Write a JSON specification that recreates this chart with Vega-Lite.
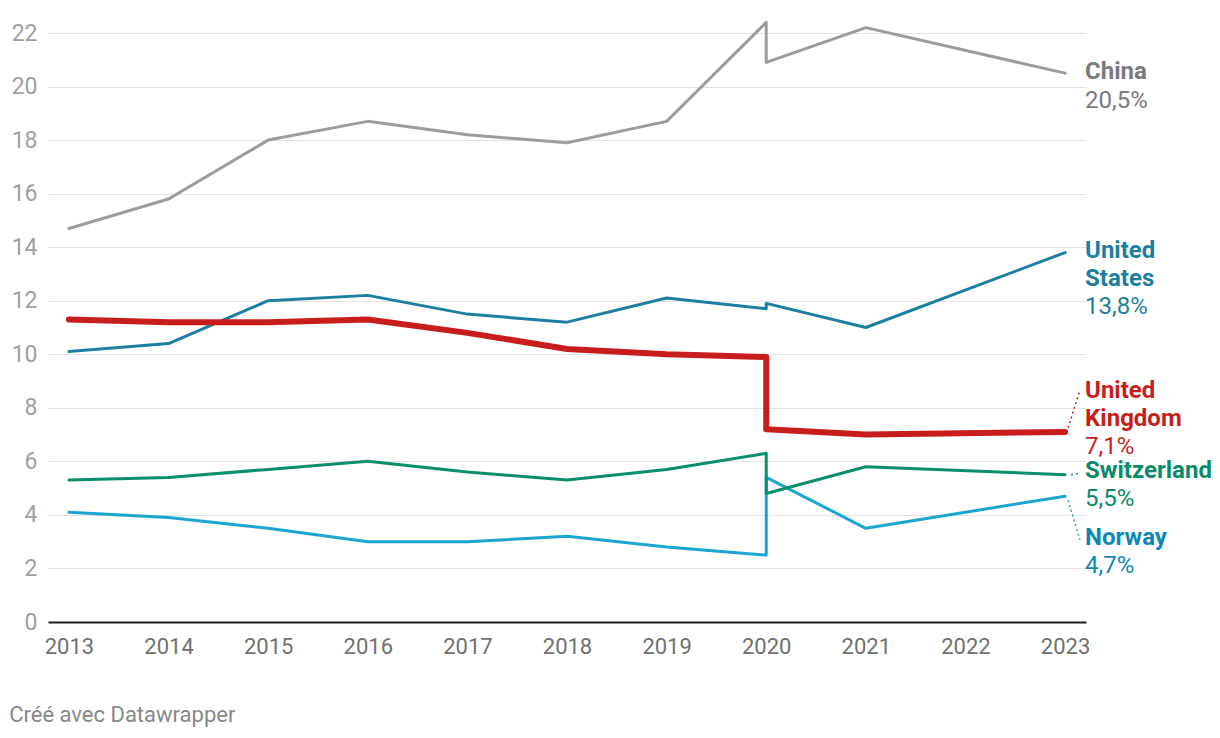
{
  "$schema": "https://vega.github.io/schema/vega-lite/v6.json",
  "width": 1038,
  "height": 589,
  "autosize": "none",
  "padding": {"left": 48, "top": 33, "right": 134, "bottom": 116},
  "background": "white",
  "title": {
    "text": "Créé avec Datawrapper",
    "orient": "bottom",
    "anchor": "start",
    "dx": -2,
    "offset": 48,
    "font": "Roboto",
    "fontSize": 22,
    "fontWeight": "normal",
    "color": "#888888"
  },
  "datasets": {
    "series": [
      {"country": "China", "i": 1, "year": 2013, "value": 14.7},
      {"country": "China", "i": 2, "year": 2014, "value": 15.8},
      {"country": "China", "i": 3, "year": 2015, "value": 18.0},
      {"country": "China", "i": 4, "year": 2016, "value": 18.7},
      {"country": "China", "i": 5, "year": 2017, "value": 18.2},
      {"country": "China", "i": 6, "year": 2018, "value": 17.9},
      {"country": "China", "i": 7, "year": 2019, "value": 18.7},
      {"country": "China", "i": 8, "year": 2020, "value": 22.4},
      {"country": "China", "i": 9, "year": 2020, "value": 20.9},
      {"country": "China", "i": 10, "year": 2021, "value": 22.2},
      {"country": "China", "i": 11, "year": 2023, "value": 20.5},
      {"country": "United States", "i": 1, "year": 2013, "value": 10.1},
      {"country": "United States", "i": 2, "year": 2014, "value": 10.4},
      {"country": "United States", "i": 3, "year": 2015, "value": 12.0},
      {"country": "United States", "i": 4, "year": 2016, "value": 12.2},
      {"country": "United States", "i": 5, "year": 2017, "value": 11.5},
      {"country": "United States", "i": 6, "year": 2018, "value": 11.2},
      {"country": "United States", "i": 7, "year": 2019, "value": 12.1},
      {"country": "United States", "i": 8, "year": 2020, "value": 11.7},
      {"country": "United States", "i": 9, "year": 2020, "value": 11.9},
      {"country": "United States", "i": 10, "year": 2021, "value": 11.0},
      {"country": "United States", "i": 11, "year": 2023, "value": 13.8},
      {"country": "United Kingdom", "i": 1, "year": 2013, "value": 11.3},
      {"country": "United Kingdom", "i": 2, "year": 2014, "value": 11.2},
      {"country": "United Kingdom", "i": 3, "year": 2015, "value": 11.2},
      {"country": "United Kingdom", "i": 4, "year": 2016, "value": 11.3},
      {"country": "United Kingdom", "i": 5, "year": 2017, "value": 10.8},
      {"country": "United Kingdom", "i": 6, "year": 2018, "value": 10.2},
      {"country": "United Kingdom", "i": 7, "year": 2019, "value": 10.0},
      {"country": "United Kingdom", "i": 8, "year": 2020, "value": 9.9},
      {"country": "United Kingdom", "i": 9, "year": 2020, "value": 7.2},
      {"country": "United Kingdom", "i": 10, "year": 2021, "value": 7.0},
      {"country": "United Kingdom", "i": 11, "year": 2023, "value": 7.1},
      {"country": "Switzerland", "i": 1, "year": 2013, "value": 5.3},
      {"country": "Switzerland", "i": 2, "year": 2014, "value": 5.4},
      {"country": "Switzerland", "i": 3, "year": 2015, "value": 5.7},
      {"country": "Switzerland", "i": 4, "year": 2016, "value": 6.0},
      {"country": "Switzerland", "i": 5, "year": 2017, "value": 5.6},
      {"country": "Switzerland", "i": 6, "year": 2018, "value": 5.3},
      {"country": "Switzerland", "i": 7, "year": 2019, "value": 5.7},
      {"country": "Switzerland", "i": 8, "year": 2020, "value": 6.3},
      {"country": "Switzerland", "i": 9, "year": 2020, "value": 4.8},
      {"country": "Switzerland", "i": 10, "year": 2021, "value": 5.8},
      {"country": "Switzerland", "i": 11, "year": 2023, "value": 5.5},
      {"country": "Norway", "i": 1, "year": 2013, "value": 4.1},
      {"country": "Norway", "i": 2, "year": 2014, "value": 3.9},
      {"country": "Norway", "i": 3, "year": 2015, "value": 3.5},
      {"country": "Norway", "i": 4, "year": 2016, "value": 3.0},
      {"country": "Norway", "i": 5, "year": 2017, "value": 3.0},
      {"country": "Norway", "i": 6, "year": 2018, "value": 3.2},
      {"country": "Norway", "i": 7, "year": 2019, "value": 2.8},
      {"country": "Norway", "i": 8, "year": 2020, "value": 2.5},
      {"country": "Norway", "i": 9, "year": 2020, "value": 5.4},
      {"country": "Norway", "i": 10, "year": 2021, "value": 3.5},
      {"country": "Norway", "i": 11, "year": 2023, "value": 4.7}
    ],
    "leaders": [
      {"country": "United Kingdom", "x": 2023.03, "y": 7.25, "x2": 2023.15, "y2": 8.67},
      {"country": "Switzerland", "x": 2023.06, "y": 5.5, "x2": 2023.14, "y2": 5.55},
      {"country": "Norway", "x": 2023.03, "y": 4.55, "x2": 2023.15, "y2": 3.06}
    ]
  },
  "config": {
    "view": {"stroke": null},
    "font": "Roboto"
  },
  "encoding": {
    "x": {
      "field": "year",
      "type": "quantitative",
      "scale": {"domain": [2012.79, 2023.21], "nice": false, "zero": false},
      "axis": {
        "title": null,
        "values": [2013, 2014, 2015, 2016, 2017, 2018, 2019, 2020, 2021, 2022, 2023],
        "format": "d",
        "grid": false,
        "ticks": false,
        "domain": true,
        "domainColor": "#1a1a1a",
        "domainWidth": 2,
        "labelFont": "Roboto",
        "labelFontSize": 22,
        "labelColor": "#707070",
        "labelPadding": 14,
        "labelFlush": false
      }
    },
    "y": {
      "field": "value",
      "type": "quantitative",
      "scale": {"domain": [0, 22], "nice": false},
      "axis": {
        "title": null,
        "values": [0, 2, 4, 6, 8, 10, 12, 14, 16, 18, 20, 22],
        "grid": true,
        "gridColor": "#e3e3e3",
        "gridWidth": 1.2,
        "ticks": false,
        "domain": false,
        "labelFont": "Roboto",
        "labelFontSize": 23,
        "labelColor": "#a0a0a0",
        "labelPadding": 11,
        "labelAlign": "right",
        "labelBaseline": "middle"
      }
    }
  },
  "layer": [
    {
      "data": {"name": "series"},
      "transform": [{"filter": "datum.country === 'China'"}],
      "mark": {"type": "line", "color": "#9c9c9c", "strokeWidth": 3, "strokeJoin": "round", "strokeCap": "round", "clip": false},
      "encoding": {"order": {"field": "i", "type": "quantitative"}}
    },
    {
      "data": {"name": "series"},
      "transform": [{"filter": "datum.country === 'United States'"}],
      "mark": {"type": "line", "color": "#1d7fa0", "strokeWidth": 3, "strokeJoin": "round", "strokeCap": "round"},
      "encoding": {"order": {"field": "i", "type": "quantitative"}}
    },
    {
      "data": {"name": "series"},
      "transform": [{"filter": "datum.country === 'Norway'"}],
      "mark": {"type": "line", "color": "#1ba6d2", "strokeWidth": 3, "strokeJoin": "round", "strokeCap": "round"},
      "encoding": {"order": {"field": "i", "type": "quantitative"}}
    },
    {
      "data": {"name": "series"},
      "transform": [{"filter": "datum.country === 'Switzerland'"}],
      "mark": {"type": "line", "color": "#0a8f6c", "strokeWidth": 3, "strokeJoin": "round", "strokeCap": "round"},
      "encoding": {"order": {"field": "i", "type": "quantitative"}}
    },
    {
      "data": {"name": "series"},
      "transform": [{"filter": "datum.country === 'United Kingdom'"}],
      "mark": {"type": "line", "color": "#c71e1d", "strokeWidth": 6, "strokeJoin": "round", "strokeCap": "round"},
      "encoding": {"order": {"field": "i", "type": "quantitative"}}
    },
    {
      "data": {"name": "leaders"},
      "mark": {"type": "rule", "strokeWidth": 1.5, "strokeDash": [2, 3]},
      "encoding": {
        "x": {"field": "x", "type": "quantitative"},
        "y": {"field": "y", "type": "quantitative"},
        "x2": {"field": "x2"},
        "y2": {"field": "y2"},
        "color": {
          "field": "country",
          "type": "nominal",
          "scale": {"domain": ["United Kingdom", "Switzerland", "Norway"], "range": ["#c71e1d", "#0a8f6c", "#1ba6d2"]},
          "legend": null
        }
      }
    },
    {
      "data": {"name": "series"},
      "transform": [{"filter": "datum.country === 'China' && datum.year === 2023"}],
      "mark": {"type": "text", "align": "left", "baseline": "middle", "dx": 20, "dy": -1, "font": "Roboto", "fontSize": 24, "fontWeight": "bold", "color": "#7a7a7a"},
      "encoding": {"text": {"field": "country"}}
    },
    {
      "data": {"name": "series"},
      "transform": [{"filter": "datum.country === 'China' && datum.year === 2023"}, {"calculate": "replace(format(datum.value, '.1f'), '.', ',') + '%'", "as": "lab"}],
      "mark": {"type": "text", "align": "left", "baseline": "middle", "dx": 20, "dy": 28, "font": "Roboto", "fontSize": 24, "color": "#7a7a7a"},
      "encoding": {"text": {"field": "lab"}}
    },
    {
      "data": {"name": "series"},
      "transform": [{"filter": "datum.country === 'United States' && datum.year === 2023"}],
      "mark": {"type": "text", "align": "left", "baseline": "middle", "dx": 20, "dy": -2, "lineBreak": " ", "lineHeight": 28, "font": "Roboto", "fontSize": 24, "fontWeight": "bold", "color": "#1d7fa0"},
      "encoding": {"text": {"field": "country"}}
    },
    {
      "data": {"name": "series"},
      "transform": [{"filter": "datum.country === 'United States' && datum.year === 2023"}, {"calculate": "replace(format(datum.value, '.1f'), '.', ',') + '%'", "as": "lab"}],
      "mark": {"type": "text", "align": "left", "baseline": "middle", "dx": 20, "dy": 54, "font": "Roboto", "fontSize": 24, "color": "#1d7fa0"},
      "encoding": {"text": {"field": "lab"}}
    },
    {
      "data": {"name": "series"},
      "transform": [{"filter": "datum.country === 'United Kingdom' && datum.year === 2023"}],
      "mark": {"type": "text", "align": "left", "baseline": "middle", "dx": 20, "dy": -41, "lineBreak": " ", "lineHeight": 28, "font": "Roboto", "fontSize": 24, "fontWeight": "bold", "color": "#c71e1d"},
      "encoding": {"text": {"field": "country"}}
    },
    {
      "data": {"name": "series"},
      "transform": [{"filter": "datum.country === 'United Kingdom' && datum.year === 2023"}, {"calculate": "replace(format(datum.value, '.1f'), '.', ',') + '%'", "as": "lab"}],
      "mark": {"type": "text", "align": "left", "baseline": "middle", "dx": 20, "dy": 15, "font": "Roboto", "fontSize": 24, "color": "#c71e1d"},
      "encoding": {"text": {"field": "lab"}}
    },
    {
      "data": {"name": "series"},
      "transform": [{"filter": "datum.country === 'Switzerland' && datum.year === 2023"}],
      "mark": {"type": "text", "align": "left", "baseline": "middle", "dx": 20, "dy": -4, "font": "Roboto", "fontSize": 24, "fontWeight": "bold", "color": "#0a8a68"},
      "encoding": {"text": {"field": "country"}}
    },
    {
      "data": {"name": "series"},
      "transform": [{"filter": "datum.country === 'Switzerland' && datum.year === 2023"}, {"calculate": "replace(format(datum.value, '.1f'), '.', ',') + '%'", "as": "lab"}],
      "mark": {"type": "text", "align": "left", "baseline": "middle", "dx": 20, "dy": 24, "font": "Roboto", "fontSize": 24, "color": "#0a8a68"},
      "encoding": {"text": {"field": "lab"}}
    },
    {
      "data": {"name": "series"},
      "transform": [{"filter": "datum.country === 'Norway' && datum.year === 2023"}],
      "mark": {"type": "text", "align": "left", "baseline": "middle", "dx": 20, "dy": 42, "font": "Roboto", "fontSize": 24, "fontWeight": "bold", "color": "#0d88b4"},
      "encoding": {"text": {"field": "country"}}
    },
    {
      "data": {"name": "series"},
      "transform": [{"filter": "datum.country === 'Norway' && datum.year === 2023"}, {"calculate": "replace(format(datum.value, '.1f'), '.', ',') + '%'", "as": "lab"}],
      "mark": {"type": "text", "align": "left", "baseline": "middle", "dx": 20, "dy": 70, "font": "Roboto", "fontSize": 24, "color": "#0d88b4"},
      "encoding": {"text": {"field": "lab"}}
    }
  ]
}
